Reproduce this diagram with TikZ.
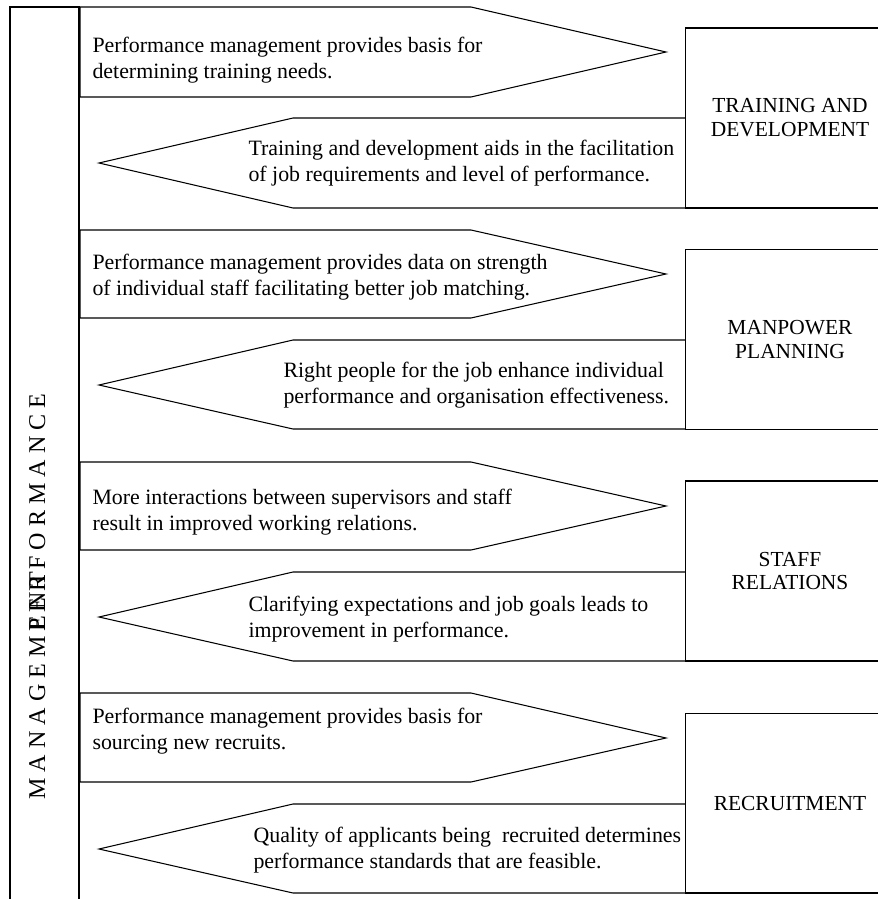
\documentclass[tikz,border=0pt]{standalone}
\usepackage{fontspec}
\setmainfont{Liberation Serif}

\begin{document}
\begin{tikzpicture}[
  x=0.02cm, y=-0.02cm,
  line width=0.6pt, line join=miter,
  note/.style={anchor=west, align=left, inner sep=0pt, font=\fontsize{12.45}{14.5}\selectfont},
  unit/.style={draw, minimum width=4.2cm, minimum height=3.6cm, align=center, inner sep=0pt, font=\fontsize{12.2}{13.6}\selectfont},
  spine/.style={rotate=90, inner sep=0pt, font=\fontsize{13.7}{16}\selectfont}]
  \useasboundingbox (0,0) rectangle (877,899);
  \draw (10,910) -- (10,7) -- (79,7) -- (79,910);
  \node[spine, anchor=base west] (mgmt) at (45,800) {M A N A G E M E N T};
  \node[spine, anchor=base east] (perf) at (45,393) {P E R F O R M A N C E};
  \draw (80,7) -- (471,7) -- (666,52) -- (471,97) -- (80,97) -- cycle;
  \draw (685,118) -- (293,118) -- (99,163) -- (293,208) -- (685,208);
  \draw (80,230) -- (471,230) -- (666,274) -- (471,318) -- (80,318) -- cycle;
  \draw (685,340) -- (293,340) -- (99,385) -- (293,429) -- (685,429);
  \draw (80,462) -- (471,462) -- (666,506) -- (471,550) -- (80,550) -- cycle;
  \draw (685,572) -- (293,572) -- (99,617) -- (293,661) -- (685,661);
  \draw (80,693) -- (471,693) -- (666,738) -- (471,782) -- (80,782) -- cycle;
  \draw (685,804) -- (293,804) -- (99,849) -- (293,893) -- (685,893);
  \node[unit] (train) at (790,118) {TRAINING AND\\DEVELOPMENT};
  \node[unit] (manpower) at (790,339.5) {MANPOWER\\PLANNING};
  \node[unit] (staff) at (790,571) {STAFF\\RELATIONS};
  \node[unit] (recruit) at (790,803) {RECRUITMENT};
  \node[note] (pmtrain) at (92,60) {Performance management provides basis for\\determining training needs.};
  \node[note] (tdaids) at (248,163) {Training and development aids in the facilitation\\of job requirements and level of performance.};
  \node[note] (pmdata) at (92,277) {Performance management provides data on strength\\of individual staff facilitating better job matching.};
  \node[note] (rightppl) at (283,385) {Right people for the job enhance individual\\performance and organisation effectiveness.};
  \node[note] (interact) at (92,512) {More interactions between supervisors and staff\\result in improved working relations.};
  \node[note] (clarify) at (248,619) {Clarifying expectations and job goals leads to\\improvement in performance.};
  \node[note] (pmsource) at (92,731) {Performance management provides basis for\\sourcing new recruits.};
  \node[note] (quality) at (253,850) {Quality of applicants being\ \ recruited determines\\performance standards that are feasible.};
\end{tikzpicture}
\end{document}
